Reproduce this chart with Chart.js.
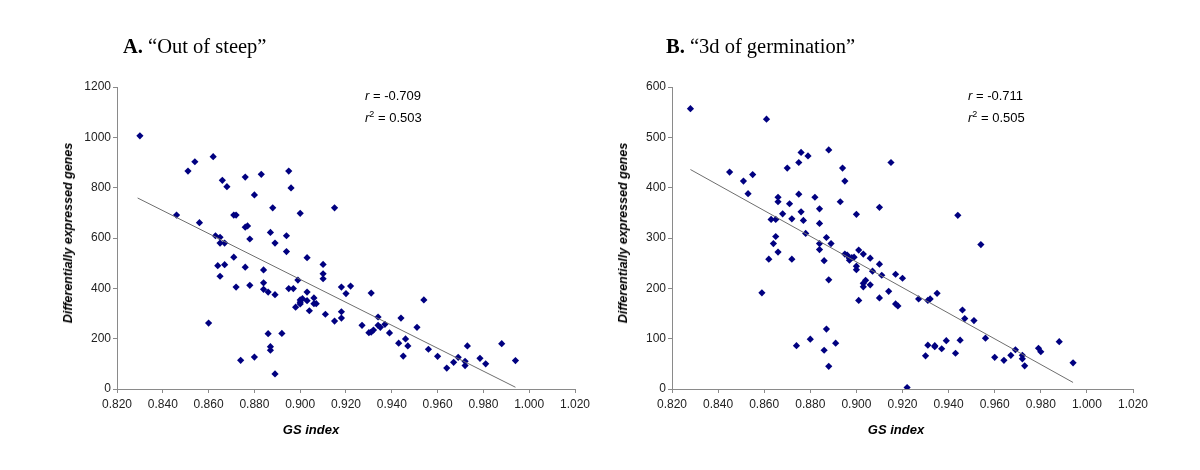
<!DOCTYPE html>
<html><head><meta charset="utf-8">
<script src="https://cdn.jsdelivr.net/npm/chart.js@4.4.1/dist/chart.umd.min.js"></script>
<style>
html,body{margin:0;padding:0;background:#fff;}
#wrap{position:relative;width:1200px;height:470px;overflow:hidden;background:#fff;}
canvas{position:absolute;top:0;}
.title{position:absolute;font-family:"Liberation Serif","Times New Roman",serif;font-size:20.5px;color:#000;white-space:nowrap;line-height:22px;}
.stat{position:absolute;font-family:"Liberation Sans",Arial,sans-serif;font-size:13px;color:#000;white-space:nowrap;line-height:22px;}
.stat sup{font-size:9px;vertical-align:5px;line-height:0;}
.xt{position:absolute;top:422px;transform:translateX(-50%);font-family:"Liberation Sans",Arial,sans-serif;font-size:13px;font-weight:bold;font-style:italic;color:#000;white-space:nowrap;line-height:16px;}
.yt{position:absolute;top:233px;transform:translate(-50%,-50%) rotate(-90deg);font-family:"Liberation Sans",Arial,sans-serif;font-size:12.5px;font-weight:bold;font-style:italic;color:#000;white-space:nowrap;line-height:16px;}
</style></head><body>
<div id="wrap">
<canvas id="cA" width="600" height="470" style="left:0"></canvas>
<canvas id="cB" width="600" height="470" style="left:555px"></canvas>
<div class="title" style="left:123px;top:35px"><b>A.</b> “Out of steep”</div>
<div class="title" style="left:666px;top:35px"><b>B.</b> “3d of germination”</div>
<div class="stat" style="left:365px;top:85px"><i>r</i> = -0.709<br><i>r</i><sup>2</sup> = 0.503</div>
<div class="stat" style="left:968px;top:85px"><i>r</i> = -0.711<br><i>r</i><sup>2</sup> = 0.505</div>
<div class="xt" style="left:311px">GS index</div>
<div class="xt" style="left:896px">GS index</div>
<div class="yt" style="left:68px">Differentially expressed genes</div>
<div class="yt" style="left:623px">Differentially expressed genes</div>
</div>
<script>
// ---- Chart A: "Out of steep" ----
const gsA = [0.830,0.846,0.851,0.854,0.862,0.856,0.866,0.868,0.876,0.883,0.880,0.871,0.872,0.876,0.877,0.888,0.895,0.896,0.900,0.915,
0.863,0.865,0.865,0.867,0.878,0.887,0.889,0.894,0.894,0.871,0.864,0.867,0.865,0.876,0.872,0.878,0.884,0.884,0.884,0.886,
0.889,0.895,0.897,0.899,0.898,0.860,0.886,0.892,0.887,0.887,0.880,0.874,0.889,0.903,0.910,0.910,0.910,0.903,0.900,0.901,
0.900,0.900,0.903,0.906,0.906,0.907,0.904,0.911,0.918,0.920,0.922,0.918,0.918,0.915,0.931,0.934,0.927,0.930,0.931,0.932,
0.934,0.935,0.937,0.939,0.944,0.943,0.946,0.947,0.945,0.951,0.954,0.956,0.960,0.964,0.967,0.969,0.972,0.972,0.973,0.9785,
0.981,0.988,0.994];
const degA = [1006,691,866,903,923,661,829,804,842,853,771,691,691,643,648,720,866,799,698,720,
609,603,580,580,596,622,580,609,546,524,490,494,448,484,405,412,473,422,396,385,
375,399,399,433,325,262,220,221,168,154,127,114,60,522,495,458,438,385,354,359,
345,338,351,362,339,339,311,297,405,379,409,307,282,270,381,286,253,224,226,234,
253,245,257,223,282,182,199,171,131,245,354,158,130,83,106,126,110,93,171,122,
100,180,113];
const trendAx = [0.829, 0.994];
const trendAy = [759, 7];
const yTicksA = {min:0, max:1200, step:200};

// ---- Chart B: "3d of germination" ----
const gsB = [0.828,0.861,0.876,0.879,0.888,0.915,0.870,0.875,0.894,0.895,0.845,0.851,0.855,0.853,0.866,0.866,0.875,0.882,0.871,0.893,
0.910,0.884,0.868,0.876,0.900,0.863,0.865,0.872,0.877,0.884,0.878,0.887,0.865,0.864,0.884,0.889,0.866,0.884,0.862,0.872,
0.886,0.895,0.896,0.898,0.899,0.897,0.897,0.901,0.903,0.906,0.900,0.900,0.910,0.907,0.911,0.917,0.888,0.904,0.903,0.903,
0.906,0.914,0.901,0.910,0.917,0.918,0.859,0.887,0.880,0.874,0.891,0.886,0.888,0.920,0.954,0.927,0.931,0.932,0.935,0.946,
0.947,0.951,0.956,0.931,0.934,0.934,0.939,0.945,0.937,0.930,0.943,0.960,0.964,0.967,0.969,0.972,0.972,0.973,0.979,0.980,
0.988,0.994,0.922,0.944];
const degB = [557,536,470,463,475,450,439,450,439,413,431,413,426,388,381,372,387,381,368,372,
361,358,348,352,347,337,337,338,335,329,309,301,303,289,289,289,272,277,258,258,
255,268,266,261,262,256,260,276,268,260,244,237,248,234,226,228,217,216,210,203,
207,194,176,181,169,165,191,119,99,86,91,77,45,220,287,179,176,179,190,157,
140,136,101,87,86,84,96,97,80,66,71,63,57,67,78,67,60,46,81,74,
94,52,3,345];
const trendBx = [0.828, 0.994];
const trendBy = [436, 13];
const yTicksB = {min:0, max:600, step:100};

const xTicks = {min:0.82, max:1.02, step:0.02};

Chart.defaults.font.family = "'Liberation Sans', Arial, sans-serif";
Chart.defaults.color = '#222';

function pts(xs, ys){ return xs.map((x,i)=>({x:x, y:ys[i]})); }

function makeChart(id, gs, deg, tx, ty, yt, padRight){
  return new Chart(document.getElementById(id), {
    type: 'scatter',
    data: { datasets: [
      { data: pts(gs, deg), pointStyle:'rectRot', pointRadius:3.6, pointHoverRadius:3.6,
        backgroundColor:'#000080', borderColor:'#000080', borderWidth:0, order:1 },
      { data: pts(tx, ty), showLine:true, borderColor:'#6e6e6e', borderWidth:1,
        pointRadius:0, fill:false, order:0 }
    ]},
    options: {
      responsive:false, animation:false, devicePixelRatio:1,
      layout:{ padding:{ left:0, top:87, right:padRight, bottom:0 } },
      plugins:{ legend:{display:false}, tooltip:{enabled:false} },
      scales:{
        x:{ type:'linear', min:xTicks.min, max:xTicks.max,
            afterFit:(s)=>{ s.height = 81; },
            border:{display:true, color:'#8a8a8a', width:1},
            grid:{drawOnChartArea:false, drawTicks:true, tickLength:4, color:'#8a8a8a'},
            ticks:{ stepSize:xTicks.step, padding:4, font:{size:12}, color:'#222', maxRotation:0,
                    callback:(v)=>Number(v).toFixed(3) },
            title:{ display:false } },
        y:{ type:'linear', min:yt.min, max:yt.max,
            afterFit:(s)=>{ s.width = 117; },
            border:{display:true, color:'#8a8a8a', width:1},
            grid:{drawOnChartArea:false, drawTicks:true, tickLength:4, color:'#8a8a8a'},
            ticks:{ stepSize:yt.step, padding:2, font:{size:12}, color:'#222',
                    callback:(v)=>String(v) },
            title:{ display:false } }
      }
    }
  });
}
makeChart('cA', gsA, degA, trendAx, trendAy, yTicksA, 25);
makeChart('cB', gsB, degB, trendBx, trendBy, yTicksB, 22);
</script>
</body></html>
